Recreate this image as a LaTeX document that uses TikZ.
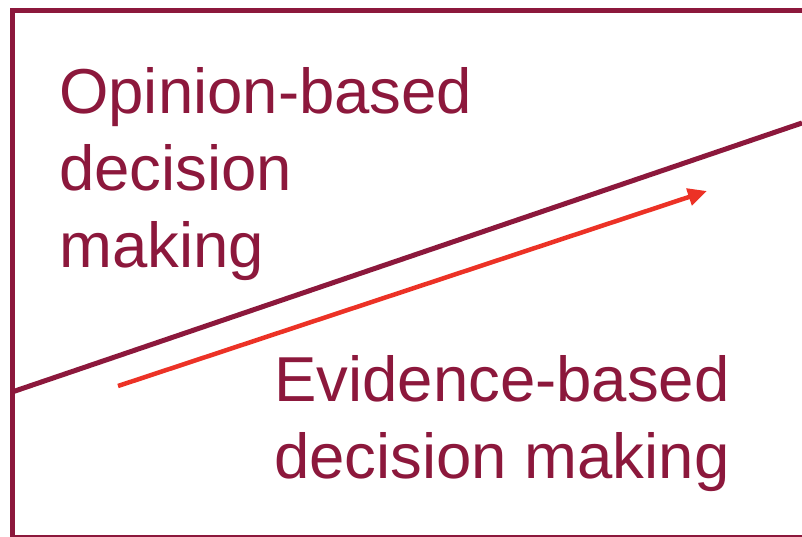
\documentclass[tikz,border=0pt]{standalone}
\usepackage{fontspec}
\setmainfont{Liberation Sans}
\usepackage{xcolor}
\usepackage{tikz}
\usetikzlibrary{arrows.meta}

\definecolor{maroon}{RGB}{140,24,60}
\definecolor{arrowred}{RGB}{236,50,38}

\begin{document}
\begin{tikzpicture}[x=1pt,y=-1pt,
  label/.style={text=maroon,inner sep=0pt,align=left,anchor=base west,
    font=\fontsize{63.5}{77}\selectfont}]
\useasboundingbox (0,0) rectangle (802,536);
% frame, open on the right
\draw[maroon,line width=5pt] (802,10) -- (12,10) -- (12,537) -- (802,537);
% dividing line
\coordinate (lo) at (12,392);
\coordinate (hi) at (802,123);
\draw[maroon,line width=5pt] (lo) -- (hi);
% trend arrow
\coordinate (start) at (118,386);
\coordinate (tip) at (707,191);
\draw[arrowred,line width=4.5pt,-{Triangle[length=19pt,width=17pt]}] (start) -- (tip);
% base anchor sits on the last line
\node[label] (opinion) at (59,267) {Opinion-based\\decision\\making};
\node[label] (evidence) at (274,478) {Evidence-based\\decision making};
\end{tikzpicture}
\end{document}
